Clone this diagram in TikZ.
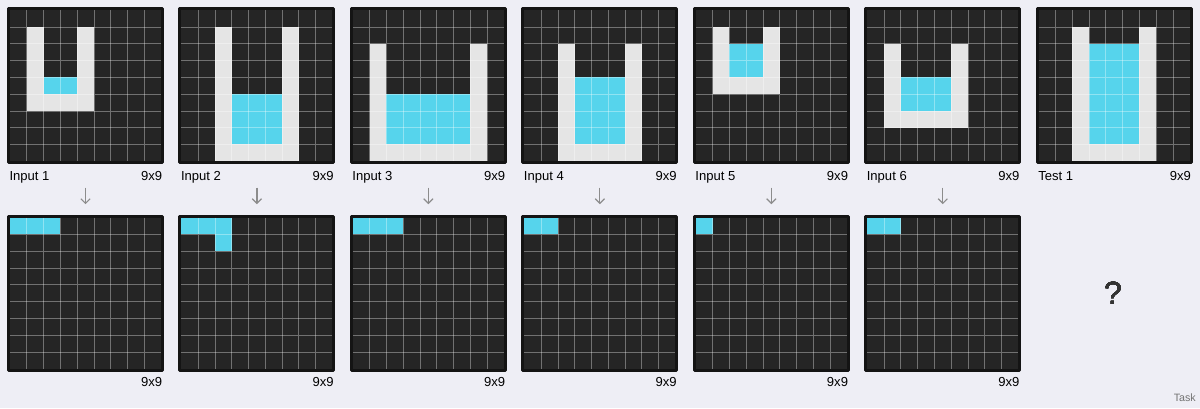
\documentclass[tikz,border=0pt]{standalone}
\usepackage{fontspec}
\setmainfont{Liberation Sans}
\usetikzlibrary{arrows.meta}
\definecolor{bgc}{HTML}{EEEEF5}
\definecolor{cellbg}{HTML}{252525}
\definecolor{wallc}{HTML}{E5E5E5}
\definecolor{waterc}{HTML}{56D4EC}
\definecolor{arrc}{HTML}{8C8C8C}
\tikzset{
	gridbox/.style={draw=black!92,line width=2.25pt,fill=cellbg,minimum size=115.5pt,inner sep=0pt,outer sep=0pt},
	lbl/.style={font=\fontsize{9.8}{11}\selectfont,inner sep=0pt},
	flow/.style={draw=arrc,line width=.9pt,-{Straight Barb[length=3.5pt,width=7pt]}},
	cellunit/.style={x=12.58pt,y=-12.58pt}
}
% block of cells (c1,r1)-(c2,r2) in a grid node
\newcommand\blk[6]{\fill[#6,shift={(#1.north west)},shift={(1.5,1.5)},cellunit] (#2,#3) rectangle (#4,#5);}
\newcommand\gridlines[1]{\foreach \k in {1,...,8}\draw[white,opacity=.35,line width=.55pt,shift={(#1.north west)},shift={(1.5,1.5)},cellunit] (\k,0)--(\k,9) (0,\k)--(9,\k);}
\begin{document}
\begin{tikzpicture}[x=.75pt,y=-.75pt,line join=round]
	\fill[bgc] (0,0) rectangle (1200,408);
	\foreach \i/\t in {1/Input 1,2/Input 2,3/Input 3,4/Input 4,5/Input 5,6/Input 6,7/Test 1}{
		\node[gridbox] (in\i) at ({85.5+171.45*(\i-1)},85.8) {};
		\node[lbl,anchor=base west] (nm\i) at ({9.3+171.45*(\i-1)},180) {\t};
		\node[lbl,anchor=base east] (sz\i) at ({162.5+171.45*(\i-1)},180) {9x9};}
	\foreach \i in {1,...,6}{
		\node[gridbox] (out\i) at ({85.5+171.45*(\i-1)},293.2) {};
		\node[lbl,anchor=base east] (osz\i) at ({162.5+171.45*(\i-1)},386.7) {9x9};
		\draw[flow] ([yshift=-18.6pt]in\i.south)--([yshift=9pt]out\i.north);}
	% inputs
	\blk{in1}{1}{1}{2}{6}{wallc}\blk{in1}{4}{1}{5}{6}{wallc}\blk{in1}{1}{5}{5}{6}{wallc}\blk{in1}{2}{4}{4}{5}{waterc}
	\blk{in2}{2}{1}{3}{9}{wallc}\blk{in2}{6}{1}{7}{9}{wallc}\blk{in2}{2}{8}{7}{9}{wallc}\blk{in2}{3}{5}{6}{8}{waterc}
	\blk{in3}{1}{2}{2}{9}{wallc}\blk{in3}{7}{2}{8}{9}{wallc}\blk{in3}{1}{8}{8}{9}{wallc}\blk{in3}{2}{5}{7}{8}{waterc}
	\blk{in4}{2}{2}{3}{9}{wallc}\blk{in4}{6}{2}{7}{9}{wallc}\blk{in4}{2}{8}{7}{9}{wallc}\blk{in4}{3}{4}{6}{8}{waterc}
	\blk{in5}{1}{1}{2}{5}{wallc}\blk{in5}{4}{1}{5}{5}{wallc}\blk{in5}{1}{4}{5}{5}{wallc}\blk{in5}{2}{2}{4}{4}{waterc}
	\blk{in6}{1}{2}{2}{7}{wallc}\blk{in6}{5}{2}{6}{7}{wallc}\blk{in6}{1}{6}{6}{7}{wallc}\blk{in6}{2}{4}{5}{6}{waterc}
	\blk{in7}{2}{1}{3}{9}{wallc}\blk{in7}{6}{1}{7}{9}{wallc}\blk{in7}{2}{8}{7}{9}{wallc}\blk{in7}{3}{2}{6}{8}{waterc}
	% outputs
	\blk{out1}{0}{0}{3}{1}{waterc}
	\blk{out2}{0}{0}{3}{1}{waterc}\blk{out2}{2}{1}{3}{2}{waterc}
	\blk{out3}{0}{0}{3}{1}{waterc}
	\blk{out4}{0}{0}{2}{1}{waterc}
	\blk{out5}{0}{0}{1}{1}{waterc}
	\blk{out6}{0}{0}{2}{1}{waterc}
	\foreach \g in {in1,in2,in3,in4,in5,in6,in7,out1,out2,out3,out4,out5,out6}\gridlines{\g}
	\node[font=\fontsize{24}{26}\selectfont,text=black!80] (ask) at (1113,293) {?};
	\node[font=\fontsize{8}{9}\selectfont,text=black!55,anchor=base east,inner sep=0pt] (task) at (1196,401) {Task};
\end{tikzpicture}
\end{document}
